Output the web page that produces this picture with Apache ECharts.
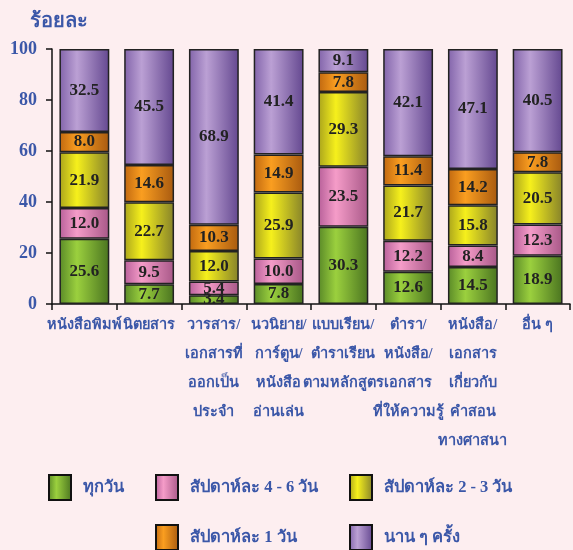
<!DOCTYPE html>
<html>
<head>
<meta charset="utf-8">
<script src="https://cdn.jsdelivr.net/npm/echarts@6/dist/echarts.min.js"></script>
<style>
  html, body { margin: 0; padding: 0; background: #fdeef0; }
  #chart { width: 573px; height: 550px; }
</style>
</head>
<body>
<div id="chart"></div>
<script>
// หมวดหมู่ของสิ่งพิมพ์
const categories = [
  "หนังสือพิมพ์",
  "นิตยสาร",
  "วารสาร/\nเอกสารที่\nออกเป็น\nประจำ",
  "นวนิยาย/\nการ์ตูน/\nหนังสือ\nอ่านเล่น",
  "แบบเรียน/\nตำราเรียน\nตามหลักสูตร",
  "ตำรา/\nหนังสือ/\nเอกสาร\nที่ให้ความรู้",
  "หนังสือ/\nเอกสาร\nเกี่ยวกับ\nคำสอน\nทางศาสนา",
  "อื่น ๆ"
];
const everyDay = [25.6, 7.7, 3.4, 7.8, 30.3, 12.6, 14.5, 18.9];
const week4to6 = [12.0, 9.5, 5.4, 10.0, 23.5, 12.2, 8.4, 12.3];
const week2to3 = [21.9, 22.7, 12.0, 25.9, 29.3, 21.7, 15.8, 20.5];
const week1 = [8.0, 14.6, 10.3, 14.9, 7.8, 11.4, 14.2, 7.8];
const seldom = [32.5, 45.5, 68.9, 41.4, 9.1, 42.1, 47.1, 40.5];
const yTicks = [0, 20, 40, 60, 80, 100];

const blue = "#3b57a8";
const thaiFont = "'Liberation Serif', 'DejaVu Serif', 'Noto Sans', serif";

function grad(dark, light, dark2) {
  return new echarts.graphic.LinearGradient(0, 0, 1, 0, [
    { offset: 0, color: dark },
    { offset: 0.35, color: light },
    { offset: 1, color: dark2 }
  ]);
}

const seriesDefs = [
  { name: "ทุกวัน", data: everyDay, color: grad("#5a8a28", "#9bd03e", "#4a7420") },
  { name: "สัปดาห์ละ 4 - 6 วัน", data: week4to6, color: grad("#b8609a", "#f59cc8", "#a85888") },
  { name: "สัปดาห์ละ 2 - 3 วัน", data: week2to3, color: grad("#aaa41c", "#f6f01c", "#86822a") },
  { name: "สัปดาห์ละ 1 วัน", data: week1, color: grad("#c06810", "#fa9e20", "#a85a10") },
  { name: "นาน ๆ ครั้ง", data: seldom, color: grad("#8264aa", "#bba0d4", "#644890") }
];

// ตำแหน่งคำอธิบายสัญลักษณ์
const legendPos = [[48, 474], [155, 474], [349, 474], [155, 524], [349, 524]];

const chart = echarts.init(document.getElementById("chart"));
chart.setOption({
  backgroundColor: "#fdeef0",
  animation: false,
  title: {
    text: "ร้อยละ",
    left: 30, top: 12, padding: 0,
    textStyle: { color: blue, fontSize: 20, fontWeight: "bold", fontFamily: thaiFont }
  },
  legend: seriesDefs.map((s, i) => ({
    data: [s.name],
    left: legendPos[i][0], top: legendPos[i][1],
    padding: 0,
    itemWidth: 22, itemHeight: 25, itemGap: 0,
    icon: "rect",
    itemStyle: { borderColor: "#111", borderWidth: 2 },
    textStyle: { color: blue, fontSize: 16.5, fontWeight: "bold", fontFamily: thaiFont, padding: [0, 0, 0, 7] }
  })),
  grid: { left: 52, right: 3, top: 49, bottom: 246 },
  xAxis: {
    type: "category",
    data: categories,
    axisLine: { lineStyle: { color: "#111", width: 1.5 } },
    axisTick: { show: true, length: 6, lineStyle: { color: "#111", width: 1.5 } },
    axisLabel: {
      interval: 0, color: blue, fontSize: 14.5, fontWeight: "bold",
      fontFamily: thaiFont, lineHeight: 29, margin: 7
    }
  },
  yAxis: {
    type: "value",
    min: yTicks[0], max: yTicks[yTicks.length - 1], interval: 20,
    splitLine: { show: false },
    axisLine: { show: true, lineStyle: { color: "#111", width: 1.5 } },
    axisTick: { show: true, length: 6, lineStyle: { color: "#111", width: 1.5 } },
    axisLabel: { color: blue, fontSize: 18, fontWeight: "bold", fontFamily: "'Liberation Serif', serif", margin: 15 }
  },
  series: seriesDefs.map(s => ({
    name: s.name,
    type: "bar",
    stack: "total",
    data: s.data,
    barWidth: "77%",
    itemStyle: { color: s.color, borderColor: "#222", borderWidth: 1.5 },
    label: {
      show: true, position: "inside",
      formatter: p => p.value.toFixed(1),
      color: "#222", fontSize: 17, fontWeight: "bold",
      fontFamily: "'Liberation Serif', serif"
    }
  }))
});
</script>
</body>
</html>
